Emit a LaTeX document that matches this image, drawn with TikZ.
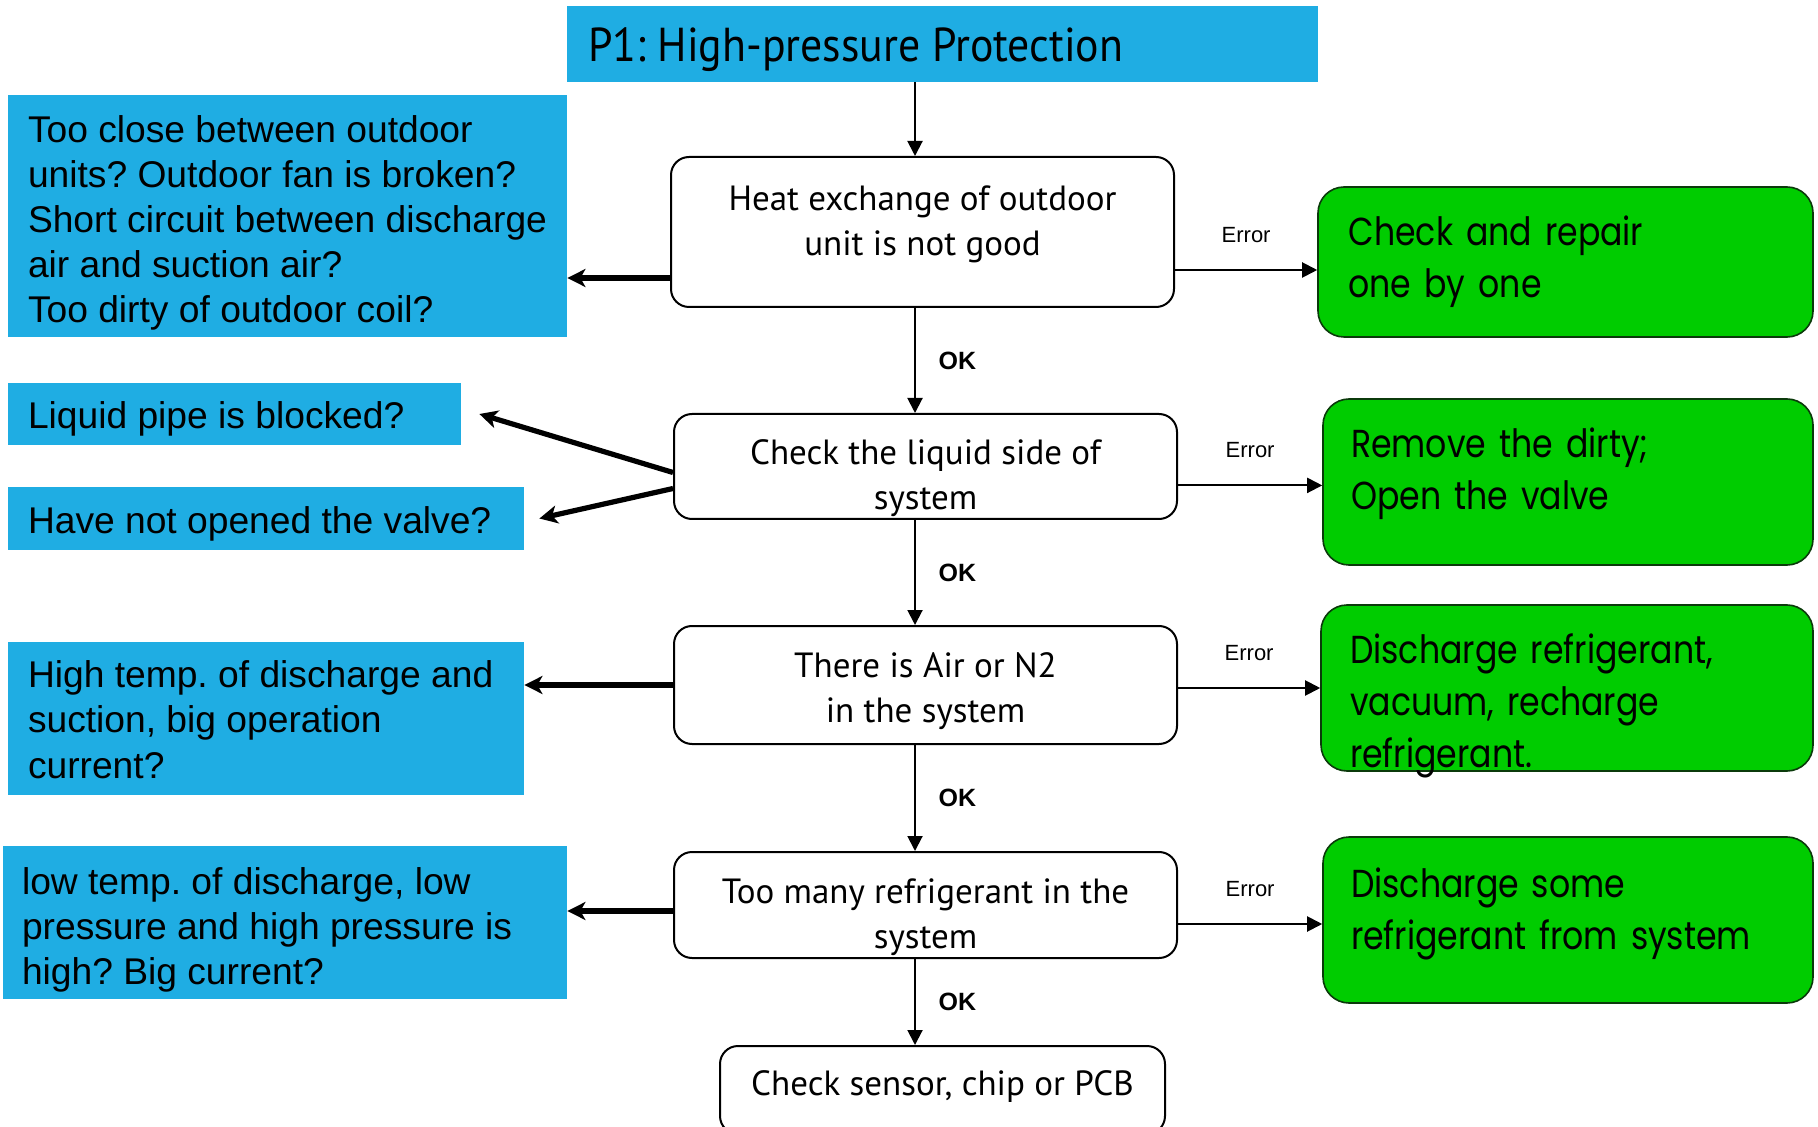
\documentclass[tikz,border=0pt]{standalone}
\usepackage{fontspec}
\usepackage{xcolor}
\usepackage{tikz}
\usetikzlibrary{calc,arrows.meta}
\setmainfont{Liberation Sans}
\newfontfamily\flowfont{PT Sans}
\newfontfamily\titlefont[FakeStretch=0.92]{PT Sans}
\newfontfamily\fixfont[FakeStretch=0.85]{Poppins}
\frenchspacing
\definecolor{causeBlue}{HTML}{1FADE3}
\definecolor{fixGreen}{HTML}{00CC00}
\definecolor{fixGreenLine}{HTML}{0B3A0B}
\tikzset{
  titlebox/.style={rectangle, fill=causeBlue, minimum width=375.5pt, minimum height=38pt, inner sep=0pt},
  titletext/.style={anchor=west, font=\titlefont\fontsize{23.8}{27}\selectfont, inner sep=0pt},
  causebox/.style={rectangle, fill=causeBlue, inner sep=0pt},
  causetext/.style={anchor=west, align=left, font=\fontsize{18.6}{22.5}\selectfont, inner sep=0pt},
  checkbox/.style={rectangle, rounded corners=9pt, draw=black, fill=white, line width=1pt, minimum width=251.5pt, inner sep=0pt},
  checktext/.style={align=center, font=\flowfont\fontsize{17.5}{22.5}\selectfont, inner sep=0pt},
  fixbox/.style={rectangle, rounded corners=13pt, draw=fixGreenLine, fill=fixGreen, line width=0.8pt, minimum width=245pt, minimum height=83pt, inner sep=0pt},
  fixtext/.style={align=left, text width=217pt, font=\fixfont\fontsize{19.5}{26}\selectfont, inner sep=0pt},
  flowarrow/.style={-{Triangle[length=7.5pt,width=7.5pt]}, line width=1pt},
  causearrow/.style={-{Stealth[length=9pt,width=9pt,inset=2.5pt]}, line width=2.6pt},
  oklabel/.style={font=\bfseries\fontsize{12.5}{14}\selectfont, right=8pt},
  errlabel/.style={font=\fontsize{11}{13}\selectfont, above=10pt},
}
\begin{document}
\begin{tikzpicture}[x=0.5pt,y=-0.5pt]
  \useasboundingbox (0,0) rectangle (1818,1127);

  % Title
  \node[titlebox] (title) at (942.5,44) {};
  \node[titletext] (titlelabel) at ([xshift=10.5pt,yshift=-3pt]title.west) {P1: High-pressure Protection};
  \coordinate (spine) at (915,0);

  % Checks down the middle
  \node[checkbox, minimum height=75pt] (heat) at (922.5,232) {};
  \node[checktext] (heatlabel) at ([yshift=3.8pt]heat.center) {Heat exchange of outdoor\\unit is not good};
  \node[checkbox, minimum height=52.5pt] (liquid) at (925.5,466.5) {};
  \node[checktext] (liquidlabel) at ([yshift=-6pt]liquid.center) {Check the liquid side of\\system};
  \node[checkbox, minimum height=59pt] (air) at (925.5,685) {};
  \node[checktext] (airlabel) at ([yshift=-3.2pt]air.center) {There is Air or N2\\in the system};
  \node[checkbox, minimum height=53pt] (refr) at (925.5,905) {};
  \node[checktext] (refrlabel) at ([yshift=-6pt]refr.center) {Too many refrigerant in the\\system};
  \node[checkbox, minimum width=222.5pt, minimum height=44pt] (sensor) at (942.5,1090) {};
  \node[checktext] (sensorlabel) at ([yshift=1.7pt]sensor.center) {Check sensor, chip or PCB};

  % Possible causes
  \node[causebox, minimum width=279.5pt, minimum height=121pt] (cause1) at (287.5,216) {};
  \node[causetext] (cause1label) at ([xshift=10pt,yshift=-3.5pt]cause1.west) {Too close between outdoor\\units? Outdoor fan is broken?\\Short circuit between discharge\\air and suction air?\\Too dirty of outdoor coil?};
  \node[causebox, minimum width=226.5pt, minimum height=31pt] (cause2) at (234.5,414) {};
  \node[causetext] (cause2label) at ([xshift=10pt,yshift=-2.3pt]cause2.west) {Liquid pipe is blocked?};
  \node[causebox, minimum width=258pt, minimum height=31.5pt] (cause3) at (266,518.5) {};
  \node[causetext] (cause3label) at ([xshift=10pt,yshift=-2.9pt]cause3.west) {Have not opened the valve?};
  \node[causebox, minimum width=258pt, minimum height=76.5pt] (cause4) at (266,718.5) {};
  \node[causetext] (cause4label) at ([xshift=10pt,yshift=-0.6pt]cause4.west) {High temp. of discharge and\\suction, big operation\\current?};
  \node[causebox, minimum width=282pt, minimum height=76.5pt] (cause5) at (285,922.5) {};
  \node[causetext] (cause5label) at ([xshift=9.5pt,yshift=-3.5pt]cause5.west) {low temp. of discharge, low\\pressure and high pressure is\\high? Big current?};

  % Fixes
  \node[fixbox, minimum width=247.5pt, minimum height=75pt] (fix1) at (1565.5,262) {};
  \node[fixtext] (fix1label) at (fix1.center) {Check and repair\\one by one};
  \node[fixbox] (fix2) at (1568,482) {};
  \node[fixtext] (fix2label) at ([yshift=4.3pt]fix2.center) {Remove the dirty;\\Open the valve};
  \node[fixbox, minimum width=246pt] (fix3) at (1567,688) {};
  \node[fixtext] (fix3label) at ([yshift=-9pt]fix3.center) {Discharge refrigerant,\\vacuum, recharge\\refrigerant.};
  \node[fixbox] (fix4) at (1568,920) {};
  \node[fixtext] (fix4label) at ([yshift=2.9pt]fix4.center) {Discharge some\\refrigerant from system};

  % OK path
  \draw[flowarrow] (title.south -| spine) -- (heat.north -| spine);
  \draw[flowarrow] (heat.south -| spine) -- node[oklabel]{OK} (liquid.north -| spine);
  \draw[flowarrow] (liquid.south -| spine) -- node[oklabel]{OK} (air.north -| spine);
  \draw[flowarrow] (air.south -| spine) -- node[oklabel]{OK} (refr.north -| spine);
  \draw[flowarrow] (refr.south -| spine) -- node[oklabel]{OK} (sensor.north -| spine);

  % Error path
  \coordinate (e1) at ([yshift=-4pt]fix1.west);
  \coordinate (e2) at ([yshift=-1.7pt]fix2.west);
  \coordinate (e4) at ([yshift=-2pt]fix4.west);
  \draw[flowarrow] (e1 -| heat.east) -- node[errlabel]{Error} (e1);
  \draw[flowarrow] (e2 -| liquid.east) -- node[errlabel]{Error} (e2);
  \draw[flowarrow] (air.east |- fix3.west) -- node[errlabel]{Error} (fix3.west);
  \draw[flowarrow] (e4 -| refr.east) -- node[errlabel]{Error} (e4);

  % Arrows to causes
  \coordinate (h1) at ([yshift=-23pt]heat.west);
  \coordinate (h4) at ([yshift=-3pt]refr.west);
  \draw[causearrow] (h1) -- (h1 -| cause1.east);
  \draw[causearrow] ([yshift=-3pt]liquid.west) -- ([xshift=9pt]cause2.east);
  \draw[causearrow] ([yshift=-11pt]liquid.west) -- ([xshift=7.5pt]cause3.east);
  \draw[causearrow] (air.west) -- (air.west -| cause4.east);
  \draw[causearrow] (h4) -- (h4 -| cause5.east);
\end{tikzpicture}
\end{document}
